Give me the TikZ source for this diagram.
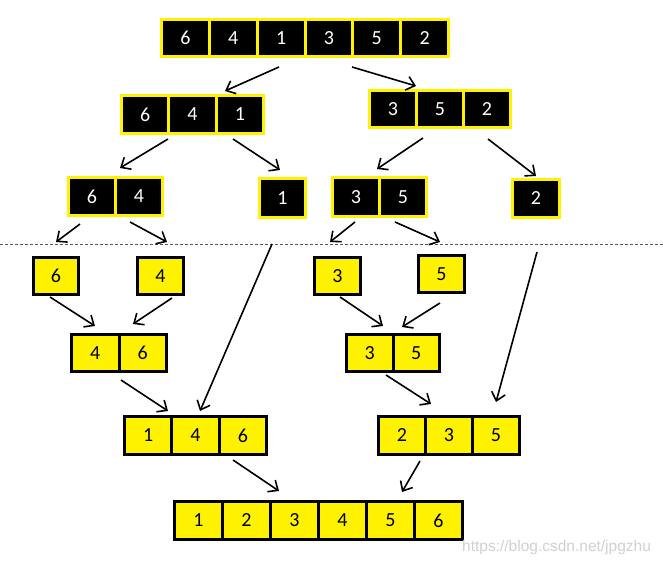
\documentclass[tikz,border=0pt]{standalone}
\usepackage{fontspec}
\setmainfont{Carlito}
\newfontfamily\wmfont{Liberation Sans}
\usetikzlibrary{arrows.meta}
\tikzset{
  digit/.style={inner sep=0pt, font=\fontsize{20}{20}\selectfont},
  blk/.style={digit, draw=yellow, fill=black, line width=3pt, text=white},
  ylw/.style={digit, draw=black, fill=yellow, line width=3pt, text=black},
  arr/.style={line width=1.6pt, -{Straight Barb[length=8pt,width=14pt,line width=1.6pt]}},
  sep/.style={draw=black!65, line width=1pt, dash pattern=on 3pt off 2pt},
}
% #1 name prefix, #2 style, #3 number of cells, #4 left, #5 top, #6 right, #7 bottom, #8 digits
\newcommand{\cellrow}[8]{%
  \pgfmathsetmacro{\cw}{(#6-#4-3)/#3}%
  \pgfmathsetmacro{\ch}{#7-#5-3}%
  \foreach \v [count=\i] in {#8} {
    \node[#2, minimum width=\cw pt, minimum height=\ch pt] (#1\i)
      at ({#4+1.5+(\i-0.5)*\cw}, {#5+1.5+\ch/2}) {\v};
  }%
}
\begin{document}
\begin{tikzpicture}[x=1pt, y=-1pt]
\useasboundingbox (0,0) rectangle (663,564);
\fill[white] (0,0) rectangle (663,564);

% splitting phase
\cellrow{t}{blk}{6}{160}{18}{450}{58}{6,4,1,3,5,2}
\cellrow{lb}{blk}{3}{120}{94}{265}{135}{6,4,1}
\cellrow{rb}{blk}{3}{368}{89}{512}{129}{3,5,2}
\cellrow{la}{blk}{2}{67}{176}{164}{217}{6,4}
\cellrow{lc}{blk}{1}{258}{177}{307}{219}{1}
\cellrow{ra}{blk}{2}{331}{176}{428}{218}{3,5}
\cellrow{rc}{blk}{1}{511}{178}{561}{219}{2}

% separator
\coordinate (sepL) at (0,244);
\coordinate (sepR) at (663,244);
\draw[sep] (sepL) -- (sepR);

% merging phase
\cellrow{sa}{ylw}{1}{32}{256}{80}{296}{6}
\cellrow{sb}{ylw}{1}{136}{256}{185}{296}{4}
\cellrow{sc}{ylw}{1}{313}{256}{362}{296}{3}
\cellrow{sd}{ylw}{1}{417}{254}{466}{294}{5}
\cellrow{ma}{ylw}{2}{70}{333}{168}{373}{4,6}
\cellrow{mb}{ylw}{2}{345}{333}{441}{373}{3,5}
\cellrow{pa}{ylw}{3}{123}{415}{268}{456}{1,4,6}
\cellrow{pb}{ylw}{3}{377}{415}{521}{456}{2,3,5}
\cellrow{f}{ylw}{6}{173}{500}{464}{541}{1,2,3,4,5,6}

% arrow end points
\coordinate (a1s) at (279,67);  \coordinate (a1e) at (225,91);
\coordinate (a2s) at (352,67);  \coordinate (a2e) at (416,86);
\coordinate (a3s) at (168,139); \coordinate (a3e) at (120,168);
\coordinate (a4s) at (233,139); \coordinate (a4e) at (280,170);
\coordinate (a5s) at (423,138); \coordinate (a5e) at (377,169);
\coordinate (a6s) at (488,139); \coordinate (a6e) at (536,176);
\coordinate (a7s) at (80,224);  \coordinate (a7e) at (56,242);
\coordinate (a8s) at (130,222); \coordinate (a8e) at (167,242);
\coordinate (a9s) at (355,222); \coordinate (a9e) at (330,242);
\coordinate (a10s) at (395,222); \coordinate (a10e) at (440,242);
\coordinate (a11s) at (272,244); \coordinate (a11e) at (200,411);
\coordinate (a12s) at (537,252); \coordinate (a12e) at (496,402);
\coordinate (a13s) at (50,297);  \coordinate (a13e) at (95,326);
\coordinate (a14s) at (172,298); \coordinate (a14e) at (133,324);
\coordinate (a15s) at (340,297); \coordinate (a15e) at (383,326);
\coordinate (a16s) at (440,303); \coordinate (a16e) at (402,327);
\coordinate (a17s) at (121,380); \coordinate (a17e) at (168,411);
\coordinate (a18s) at (386,375); \coordinate (a18e) at (431,404);
\coordinate (a19s) at (233,460); \coordinate (a19e) at (279,491);
\coordinate (a20s) at (420,461); \coordinate (a20e) at (402,492);

\foreach \k in {1,...,20} { \draw[arr] (a\k s) -- (a\k e); }

% watermark
\node[anchor=west, inner sep=0pt, text=black!18, font=\wmfont\fontsize{15.5}{15.5}\selectfont] (wm) at (462,547) {https://blog.csdn.net/jpgzhu};
\end{tikzpicture}
\end{document}
